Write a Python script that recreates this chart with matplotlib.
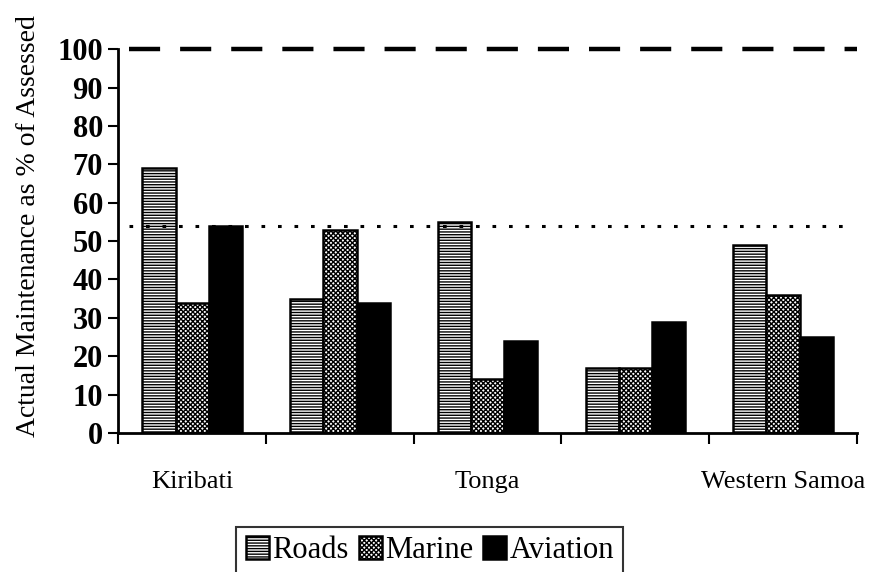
import matplotlib
matplotlib.use("Agg")
import matplotlib.pyplot as plt
import numpy as np

categories = ["Kiribati", "", "Tonga", "", "Western Samoa"]
series_names = ["Roads", "Marine", "Aviation"]
roads = [69, 35, 55, 17, 49]
marine = [34, 53, 14, 17, 36]
aviation = [54, 34, 24, 29, 25]
target_line = 100
average_line = 54
yticks = [0, 10, 20, 30, 40, 50, 60, 70, 80, 90, 100]

plt.rcParams['font.family'] = ['Liberation Serif', 'DejaVu Serif']
plt.rcParams['hatch.linewidth'] = 1.0

fig = plt.figure(figsize=(8.7, 5.72), dpi=100)
ax = fig.add_axes([0.136, 0.243, 0.849, 0.671])

x = np.arange(len(categories))
w = 0.225
styles = [dict(facecolor='white', hatch='------'),
          dict(facecolor='white', hatch='xxxxxxx'),
          dict(facecolor='black', hatch=None)]
handles = []
for k, (vals, st) in enumerate(zip([roads, marine, aviation], styles)):
    b = ax.bar(x + (k - 1) * w, vals, width=w, edgecolor='black', linewidth=1.8,
               label=series_names[k], **st)
    handles.append(b)

ax.set_xlim(-0.5, len(categories) - 0.5)
ax.set_ylim(0, 100)
ax.axhline(target_line, xmin=0.015, xmax=1.0, color='black', lw=3.2,
           dashes=(7, 4.5), clip_on=False)
ax.axhline(average_line, xmin=0.015, xmax=0.99, color='black', lw=2.2,
           dashes=(1.2, 4.2), clip_on=False)

ax.set_yticks(yticks)
ax.set_yticklabels([str(t) for t in yticks], fontsize=22, fontweight='bold')
ax.set_xticks(x)
ax.set_xticklabels(categories, fontsize=19)
ax.set_xticks(np.arange(-0.5, len(categories)), minor=True)
ax.tick_params(axis='x', which='major', length=0, pad=27)
ax.tick_params(axis='x', which='minor', length=8, width=1.5, direction='out')
ax.tick_params(axis='y', length=7, width=1.5, direction='out', pad=4)

for s in ['top', 'right']:
    ax.spines[s].set_visible(False)
for s in ['left', 'bottom']:
    ax.spines[s].set_linewidth(2)

ax.set_ylabel("Actual Maintenance as % of Assessed", fontsize=20)
ax.yaxis.set_label_coords(-0.105, 0.54)

leg = fig.legend(handles=handles, labels=series_names, loc='upper center',
                 bbox_to_anchor=(0.494, 0.079), ncol=3, fontsize=22,
                 handlelength=0.75, handleheight=0.75, handletextpad=0.1,
                 columnspacing=0.35, frameon=True, fancybox=False,
                 borderpad=0.3, borderaxespad=0.0)
leg.get_frame().set_edgecolor('black')
leg.get_frame().set_linewidth(1.5)

fig.savefig("out.png", dpi=100)
